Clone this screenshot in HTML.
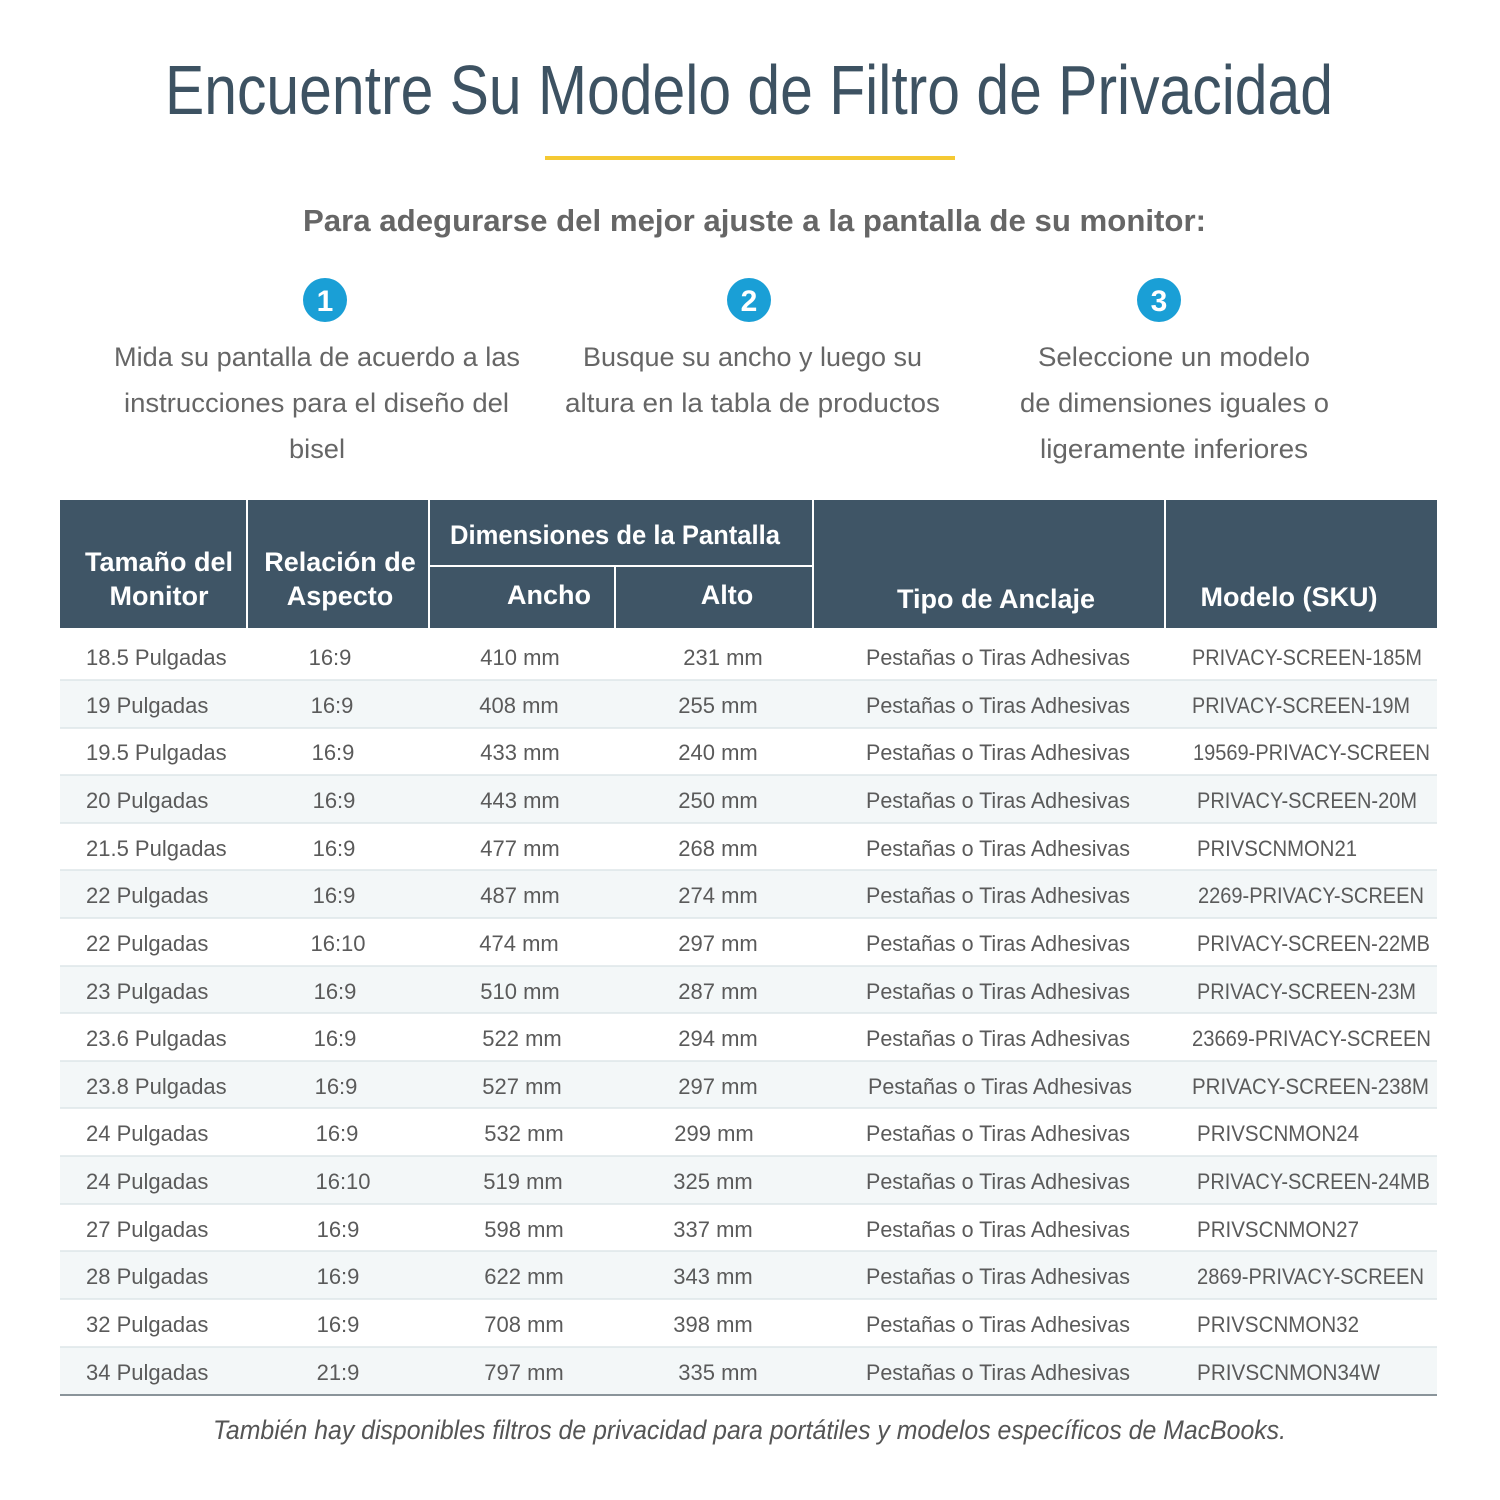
<!DOCTYPE html>
<html><head><meta charset="utf-8"><style>html,body{margin:0;padding:0;background:#fff}svg{display:block}</style></head>
<body>
<svg width="1500" height="1500" viewBox="0 0 1500 1500" xmlns="http://www.w3.org/2000/svg" font-family="Liberation Sans, sans-serif">
<rect width="1500" height="1500" fill="#fff"/>
<text x="165" y="114" font-size="70" fill="#3d5262" textLength="1168" lengthAdjust="spacingAndGlyphs">Encuentre Su Modelo de Filtro de Privacidad</text>
<rect x="545" y="156" width="410" height="4" fill="#f5c933"/>
<text x="303" y="231" font-size="31" font-weight="bold" fill="#666" textLength="903" lengthAdjust="spacingAndGlyphs">Para adegurarse del mejor ajuste a la pantalla de su monitor:</text>
<g fill="#1a9fd6"><circle cx="325" cy="300" r="22"/><circle cx="749" cy="300" r="22"/><circle cx="1159" cy="300" r="22"/></g>
<g fill="#fff" font-size="30" font-weight="bold" text-anchor="middle"><text x="325" y="311">1</text><text x="749" y="311">2</text><text x="1159" y="311">3</text></g>
<g fill="#666" font-size="27" lengthAdjust="spacingAndGlyphs">
<text x="114" y="366" textLength="406" lengthAdjust="spacingAndGlyphs">Mida su pantalla de acuerdo a las</text>
<text x="124" y="412" textLength="385" lengthAdjust="spacingAndGlyphs">instrucciones para el diseño del</text>
<text x="289" y="458" textLength="56" lengthAdjust="spacingAndGlyphs">bisel</text>
<text x="583" y="366" textLength="339" lengthAdjust="spacingAndGlyphs">Busque su ancho y luego su</text>
<text x="565" y="412" textLength="375" lengthAdjust="spacingAndGlyphs">altura en la tabla de productos</text>
<text x="1038" y="366" textLength="272" lengthAdjust="spacingAndGlyphs">Seleccione un modelo</text>
<text x="1020" y="412" textLength="309" lengthAdjust="spacingAndGlyphs">de dimensiones iguales o</text>
<text x="1040" y="458" textLength="268" lengthAdjust="spacingAndGlyphs">ligeramente inferiores</text>
</g>
<rect x="60" y="500" width="1377" height="128" fill="#3f5566"/>
<g stroke="#fff" stroke-width="2">
<line x1="247" y1="500" x2="247" y2="628"/><line x1="429" y1="500" x2="429" y2="628"/>
<line x1="813" y1="500" x2="813" y2="628"/><line x1="1165" y1="500" x2="1165" y2="628"/>
<line x1="615" y1="566" x2="615" y2="628"/><line x1="429" y1="566" x2="813" y2="566"/>
</g>
<g fill="#fff" font-size="27" font-weight="bold" text-anchor="middle">
<text x="159" y="571">Tamaño del</text><text x="159" y="605">Monitor</text>
<text x="340" y="571">Relación de</text><text x="340" y="605">Aspecto</text>
<text x="615" y="544" textLength="330" lengthAdjust="spacingAndGlyphs">Dimensiones de la Pantalla</text>
<text x="549" y="604">Ancho</text><text x="727" y="604">Alto</text>
<text x="996" y="608">Tipo de Anclaje</text><text x="1289" y="606">Modelo (SKU)</text>
</g>
<g fill="#f3f7f8">
<rect x="60" y="680" width="1377" height="48"/><rect x="60" y="775" width="1377" height="48"/>
<rect x="60" y="870" width="1377" height="48"/><rect x="60" y="966" width="1377" height="47"/>
<rect x="60" y="1061" width="1377" height="47"/><rect x="60" y="1156" width="1377" height="48"/>
<rect x="60" y="1251" width="1377" height="48"/><rect x="60" y="1347" width="1377" height="48"/>
</g>
<g stroke="#dde5e8" stroke-width="1.5">
<line x1="60" y1="680" x2="1437" y2="680"/><line x1="60" y1="728" x2="1437" y2="728"/><line x1="60" y1="775" x2="1437" y2="775"/><line x1="60" y1="823" x2="1437" y2="823"/><line x1="60" y1="870" x2="1437" y2="870"/><line x1="60" y1="918" x2="1437" y2="918"/><line x1="60" y1="966" x2="1437" y2="966"/><line x1="60" y1="1013" x2="1437" y2="1013"/><line x1="60" y1="1061" x2="1437" y2="1061"/><line x1="60" y1="1108" x2="1437" y2="1108"/><line x1="60" y1="1156" x2="1437" y2="1156"/><line x1="60" y1="1204" x2="1437" y2="1204"/><line x1="60" y1="1251" x2="1437" y2="1251"/><line x1="60" y1="1299" x2="1437" y2="1299"/><line x1="60" y1="1347" x2="1437" y2="1347"/>
</g>
<line x1="60" y1="1395" x2="1437" y2="1395" stroke="#8a949a" stroke-width="2"/>
<g fill="#5a5a5a" font-size="22">
<g>
<text x="86" y="665">18.5 Pulgadas</text><text x="86" y="713">19 Pulgadas</text><text x="86" y="760">19.5 Pulgadas</text><text x="86" y="808">20 Pulgadas</text><text x="86" y="856">21.5 Pulgadas</text><text x="86" y="903">22 Pulgadas</text><text x="86" y="951">22 Pulgadas</text><text x="86" y="999">23 Pulgadas</text><text x="86" y="1046">23.6 Pulgadas</text><text x="86" y="1094">23.8 Pulgadas</text><text x="86" y="1141">24 Pulgadas</text><text x="86" y="1189">24 Pulgadas</text><text x="86" y="1237">27 Pulgadas</text><text x="86" y="1284">28 Pulgadas</text><text x="86" y="1332">32 Pulgadas</text><text x="86" y="1380">34 Pulgadas</text>
</g>
<g text-anchor="middle">
<text x="330" y="665">16:9</text><text x="332" y="713">16:9</text><text x="333" y="760">16:9</text><text x="334" y="808">16:9</text><text x="334" y="856">16:9</text><text x="334" y="903">16:9</text><text x="338" y="951">16:10</text><text x="335" y="999">16:9</text><text x="335" y="1046">16:9</text><text x="336" y="1094">16:9</text><text x="337" y="1141">16:9</text><text x="343" y="1189">16:10</text><text x="338" y="1237">16:9</text><text x="338" y="1284">16:9</text><text x="338" y="1332">16:9</text><text x="338" y="1380">21:9</text>
<text x="520" y="665">410 mm</text><text x="519" y="713">408 mm</text><text x="520" y="760">433 mm</text><text x="520" y="808">443 mm</text><text x="520" y="856">477 mm</text><text x="520" y="903">487 mm</text><text x="519" y="951">474 mm</text><text x="520" y="999">510 mm</text><text x="522" y="1046">522 mm</text><text x="522" y="1094">527 mm</text><text x="524" y="1141">532 mm</text><text x="523" y="1189">519 mm</text><text x="524" y="1237">598 mm</text><text x="524" y="1284">622 mm</text><text x="524" y="1332">708 mm</text><text x="524" y="1380">797 mm</text>
<text x="723" y="665">231 mm</text><text x="718" y="713">255 mm</text><text x="718" y="760">240 mm</text><text x="718" y="808">250 mm</text><text x="718" y="856">268 mm</text><text x="718" y="903">274 mm</text><text x="718" y="951">297 mm</text><text x="718" y="999">287 mm</text><text x="718" y="1046">294 mm</text><text x="718" y="1094">297 mm</text><text x="714" y="1141">299 mm</text><text x="713" y="1189">325 mm</text><text x="713" y="1237">337 mm</text><text x="713" y="1284">343 mm</text><text x="713" y="1332">398 mm</text><text x="718" y="1380">335 mm</text>
</g>
<g>
<text x="866" y="665" textLength="264" lengthAdjust="spacingAndGlyphs">Pestañas o Tiras Adhesivas</text>
<text x="866" y="713" textLength="264" lengthAdjust="spacingAndGlyphs">Pestañas o Tiras Adhesivas</text>
<text x="866" y="760" textLength="264" lengthAdjust="spacingAndGlyphs">Pestañas o Tiras Adhesivas</text>
<text x="866" y="808" textLength="264" lengthAdjust="spacingAndGlyphs">Pestañas o Tiras Adhesivas</text>
<text x="866" y="856" textLength="264" lengthAdjust="spacingAndGlyphs">Pestañas o Tiras Adhesivas</text>
<text x="866" y="903" textLength="264" lengthAdjust="spacingAndGlyphs">Pestañas o Tiras Adhesivas</text>
<text x="866" y="951" textLength="264" lengthAdjust="spacingAndGlyphs">Pestañas o Tiras Adhesivas</text>
<text x="866" y="999" textLength="264" lengthAdjust="spacingAndGlyphs">Pestañas o Tiras Adhesivas</text>
<text x="866" y="1046" textLength="264" lengthAdjust="spacingAndGlyphs">Pestañas o Tiras Adhesivas</text>
<text x="868" y="1094" textLength="264" lengthAdjust="spacingAndGlyphs">Pestañas o Tiras Adhesivas</text>
<text x="866" y="1141" textLength="264" lengthAdjust="spacingAndGlyphs">Pestañas o Tiras Adhesivas</text>
<text x="866" y="1189" textLength="264" lengthAdjust="spacingAndGlyphs">Pestañas o Tiras Adhesivas</text>
<text x="866" y="1237" textLength="264" lengthAdjust="spacingAndGlyphs">Pestañas o Tiras Adhesivas</text>
<text x="866" y="1284" textLength="264" lengthAdjust="spacingAndGlyphs">Pestañas o Tiras Adhesivas</text>
<text x="866" y="1332" textLength="264" lengthAdjust="spacingAndGlyphs">Pestañas o Tiras Adhesivas</text>
<text x="866" y="1380" textLength="264" lengthAdjust="spacingAndGlyphs">Pestañas o Tiras Adhesivas</text>
</g>
<g>
<text x="1192" y="665" textLength="230" lengthAdjust="spacingAndGlyphs">PRIVACY-SCREEN-185M</text>
<text x="1192" y="713" textLength="218" lengthAdjust="spacingAndGlyphs">PRIVACY-SCREEN-19M</text>
<text x="1193" y="760" textLength="237" lengthAdjust="spacingAndGlyphs">19569-PRIVACY-SCREEN</text>
<text x="1197" y="808" textLength="220" lengthAdjust="spacingAndGlyphs">PRIVACY-SCREEN-20M</text>
<text x="1197" y="856" textLength="160" lengthAdjust="spacingAndGlyphs">PRIVSCNMON21</text>
<text x="1198" y="903" textLength="226" lengthAdjust="spacingAndGlyphs">2269-PRIVACY-SCREEN</text>
<text x="1197" y="951" textLength="233" lengthAdjust="spacingAndGlyphs">PRIVACY-SCREEN-22MB</text>
<text x="1197" y="999" textLength="219" lengthAdjust="spacingAndGlyphs">PRIVACY-SCREEN-23M</text>
<text x="1192" y="1046" textLength="239" lengthAdjust="spacingAndGlyphs">23669-PRIVACY-SCREEN</text>
<text x="1192" y="1094" textLength="237" lengthAdjust="spacingAndGlyphs">PRIVACY-SCREEN-238M</text>
<text x="1197" y="1141" textLength="162" lengthAdjust="spacingAndGlyphs">PRIVSCNMON24</text>
<text x="1197" y="1189" textLength="233" lengthAdjust="spacingAndGlyphs">PRIVACY-SCREEN-24MB</text>
<text x="1197" y="1237" textLength="162" lengthAdjust="spacingAndGlyphs">PRIVSCNMON27</text>
<text x="1197" y="1284" textLength="227" lengthAdjust="spacingAndGlyphs">2869-PRIVACY-SCREEN</text>
<text x="1197" y="1332" textLength="162" lengthAdjust="spacingAndGlyphs">PRIVSCNMON32</text>
<text x="1197" y="1380" textLength="183" lengthAdjust="spacingAndGlyphs">PRIVSCNMON34W</text>
</g>
</g>
<text x="213" y="1439" font-size="27" font-style="italic" fill="#555" textLength="1073" lengthAdjust="spacingAndGlyphs">También hay disponibles filtros de privacidad para portátiles y modelos específicos de MacBooks.</text>
</svg>
</body></html>
